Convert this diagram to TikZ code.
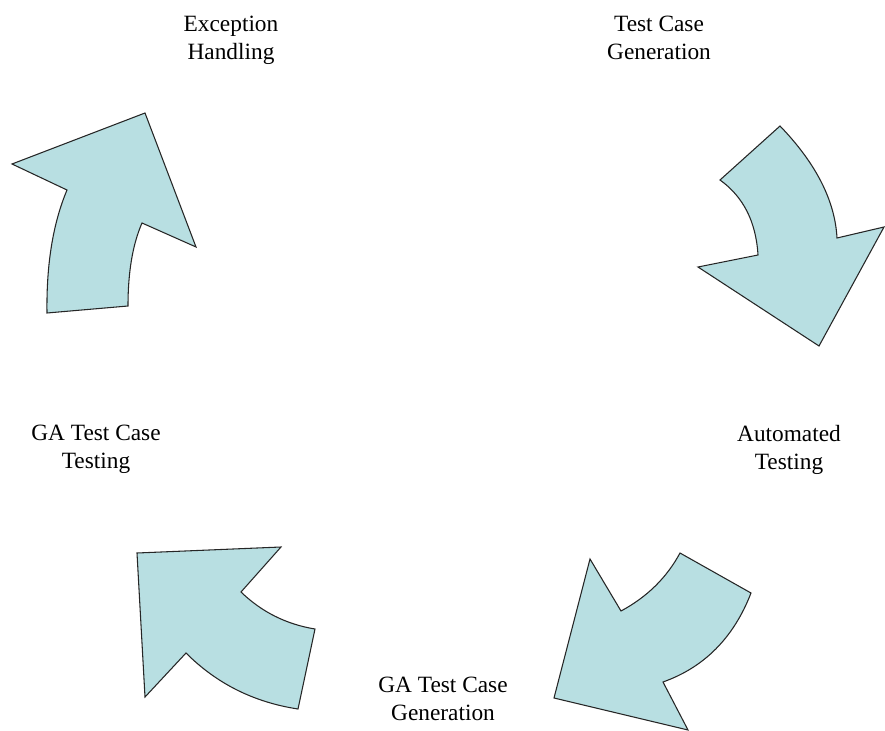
\documentclass[tikz,border=0pt]{standalone}
\usepackage{fontspec}
\setmainfont{Liberation Serif}
\usepackage{xcolor}
\definecolor{arrowcyan}{RGB}{184,223,226}

\begin{document}
\begin{tikzpicture}[x=0.75pt,y=-0.75pt,
	bent/.style={draw=black!85,fill=arrowcyan,line width=0.8pt,line join=miter},
	phase/.style={align=center,inner sep=0pt,anchor=north,font=\fontsize{17.5}{21}\selectfont}]
	\useasboundingbox (0,0) rectangle (885,731);

	\node[phase] (exc)  at (231,16)  {Exception\\Handling};
	\node[phase] (gen)  at (659,16)  {Test Case\\Generation};
	\node[phase] (auto) at (789,425) {Automated\\Testing};
	\node[phase] (gagen) at (443,677) {GA Test Case\\Generation};
	\node[phase] (gatest) at (96,425) {GA Test Case\\Testing};

	\draw[bent] (145,113) -- (12,164) -- (67,190)
		.. controls (53,223.3) and (46.3,264.3) .. (47,313) -- (128,306)
		.. controls (128,272) and (132.7,244.3) .. (142,223) -- (196,247) -- cycle;

	\draw[bent] (780,126) -- (720,180)
		.. controls (743.3,196.7) and (756,221.7) .. (758,255) -- (698,267)
		-- (819,346) -- (884,227) -- (837,238)
		.. controls (835,200.7) and (816,163.3) .. (780,126) -- cycle;

	\draw[bent] (751,593)
		.. controls (733.7,637.7) and (704.3,667.3) .. (663,682) -- (688,730)
		-- (554,698) -- (590,559) -- (621,611)
		.. controls (647,597) and (666.7,577.7) .. (680,553) -- cycle;

	\draw[bent] (137,553) -- (281,547) -- (241,592)
		.. controls (261.7,612) and (286.3,624.3) .. (315,629) -- (298,709)
		.. controls (254,702.3) and (216.7,683.7) .. (186,653) -- (145,697) -- cycle;
\end{tikzpicture}
\end{document}
